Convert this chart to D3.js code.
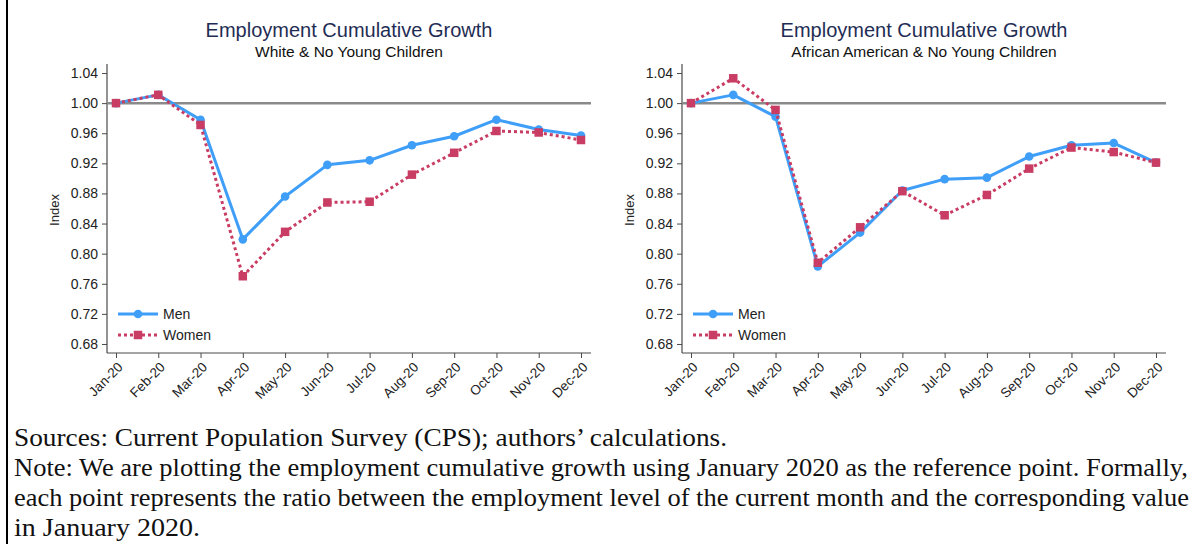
<!DOCTYPE html>
<html>
<head>
<meta charset="utf-8">
<script src="https://cdn.jsdelivr.net/npm/d3@7"></script>
<style>
  html, body { margin: 0; padding: 0; background: #fff; }
  svg { display: block; }
</style>
</head>
<body>
<svg id="fig" width="1204" height="544"></svg>
<script>
// Monthly employment index, Jan 2020 = 1
const months = ["Jan-20","Feb-20","Mar-20","Apr-20","May-20","Jun-20","Jul-20","Aug-20","Sep-20","Oct-20","Nov-20","Dec-20"];
const whiteMen   = [1.000, 1.011, 0.978, 0.819, 0.876, 0.918, 0.924, 0.944, 0.956, 0.978, 0.965, 0.957];
const whiteWomen = [1.000, 1.011, 0.971, 0.770, 0.829, 0.868, 0.869, 0.905, 0.934, 0.963, 0.961, 0.951];
const blackMen   = [1.000, 1.011, 0.982, 0.783, 0.828, 0.884, 0.899, 0.901, 0.929, 0.944, 0.947, 0.921];
const blackWomen = [1.000, 1.033, 0.991, 0.788, 0.835, 0.883, 0.851, 0.878, 0.913, 0.941, 0.935, 0.921];
const yTicks = [0.68, 0.72, 0.76, 0.80, 0.84, 0.88, 0.92, 0.96, 1.00, 1.04];
const seriesNames = ["Men", "Women"];
const panelTitle = "Employment Cumulative Growth";
const panelSubtitles = ["White & No Young Children", "African American & No Young Children"];
const footnotes = [
  "Sources: Current Population Survey (CPS); authors\u2019 calculations.",
  "Note: We are plotting the employment cumulative growth using January 2020 as the reference point. Formally,",
  "each point represents the ratio between the employment level of the current month and the corresponding value",
  "in January 2020."
];

const SANS = "'Liberation Sans', Arial, Helvetica, sans-serif";
const SERIF = "'Liberation Serif', 'Times New Roman', serif";
const MEN_COLOR = "#3f9ef7";
const WOMEN_COLOR = "#c93c63";
const AXIS_COLOR = "#4a4a4a";

const svg = d3.select("#fig");

// frame rule on the left edge
svg.append("line")
  .attr("x1", 7).attr("x2", 7).attr("y1", 0).attr("y2", 544)
  .attr("stroke", "#000").attr("stroke-width", 2);

function drawPanel(ox, subtitle, men, women) {
  const g = svg.append("g").attr("transform", `translate(${ox},0)`);
  const axisX = 107, axisRight = 591, top = 64, bottom = 353;

  const x = d3.scalePoint().domain(months).range([116, 581]);
  const y = d3.scaleLinear().domain([0.668, 1.052]).range([bottom, top]);

  // titles
  const cx = 349;
  g.append("text").attr("x", cx).attr("y", 37).attr("text-anchor", "middle")
    .attr("font-family", SANS).attr("font-size", 20).attr("fill", "#1f2d55")
    .text(panelTitle);
  g.append("text").attr("x", cx).attr("y", 57).attr("text-anchor", "middle")
    .attr("font-family", SANS).attr("font-size", 15.5).attr("fill", "#111")
    .text(subtitle);

  // y axis
  const yAxis = g.append("g").attr("transform", `translate(${axisX},0)`)
    .call(d3.axisLeft(y).tickValues(yTicks).tickFormat(d3.format(".2f")).tickSize(5).tickPadding(4));
  yAxis.select(".domain").remove();
  yAxis.selectAll(".tick line").attr("stroke", AXIS_COLOR);
  yAxis.selectAll(".tick text").attr("font-family", SANS).attr("font-size", 14).attr("fill", "#222");
  g.append("line").attr("x1", axisX).attr("x2", axisX).attr("y1", top).attr("y2", bottom)
    .attr("stroke", AXIS_COLOR).attr("stroke-width", 1.2);

  // x axis
  const xAxis = g.append("g").attr("transform", `translate(0,${bottom})`)
    .call(d3.axisBottom(x).tickSize(5).tickPadding(4));
  xAxis.select(".domain").remove();
  xAxis.selectAll(".tick line").attr("stroke", AXIS_COLOR);
  xAxis.selectAll(".tick text")
    .attr("font-family", SANS).attr("font-size", 13.5).attr("fill", "#222")
    .attr("text-anchor", "end")
    .attr("dy", null).attr("y", null)
    .attr("transform", "translate(7,15) rotate(-45)");
  g.append("line").attr("x1", axisX).attr("x2", axisRight).attr("y1", bottom).attr("y2", bottom)
    .attr("stroke", AXIS_COLOR).attr("stroke-width", 1.2);

  // y label
  g.append("text").attr("transform", `translate(59,210) rotate(-90)`)
    .attr("text-anchor", "middle").attr("font-family", SANS).attr("font-size", 13).attr("fill", "#222")
    .text("Index");

  // reference line at 1.00
  g.append("line").attr("x1", axisX).attr("x2", axisRight).attr("y1", y(1)).attr("y2", y(1))
    .attr("stroke", "#8a8a8a").attr("stroke-width", 2.5);

  const line = d3.line().x((d, i) => x(months[i])).y(d => y(d));

  // men: solid blue with circles
  g.append("path").datum(men).attr("d", line)
    .attr("fill", "none").attr("stroke", MEN_COLOR).attr("stroke-width", 3).attr("stroke-linejoin", "round");
  g.selectAll(".men-pt").data(men).join("circle")
    .attr("cx", (d, i) => x(months[i])).attr("cy", d => y(d)).attr("r", 4.3)
    .attr("fill", MEN_COLOR);

  // women: dotted crimson with squares
  g.append("path").datum(women).attr("d", line)
    .attr("fill", "none").attr("stroke", WOMEN_COLOR).attr("stroke-width", 3)
    .attr("stroke-dasharray", "3,3");
  const sq = 8.5;
  g.selectAll(".women-pt").data(women).join("rect")
    .attr("x", (d, i) => x(months[i]) - sq / 2).attr("y", d => y(d) - sq / 2)
    .attr("width", sq).attr("height", sq).attr("fill", WOMEN_COLOR);

  // legend
  const lg = g.append("g");
  const lx0 = 118, lx1 = 158, ly = [314, 335];
  lg.append("line").attr("x1", lx0).attr("x2", lx1).attr("y1", ly[0]).attr("y2", ly[0])
    .attr("stroke", MEN_COLOR).attr("stroke-width", 3);
  lg.append("circle").attr("cx", (lx0 + lx1) / 2).attr("cy", ly[0]).attr("r", 4.3).attr("fill", MEN_COLOR);
  lg.append("line").attr("x1", lx0).attr("x2", lx1).attr("y1", ly[1]).attr("y2", ly[1])
    .attr("stroke", WOMEN_COLOR).attr("stroke-width", 3).attr("stroke-dasharray", "3,3");
  lg.append("rect").attr("x", (lx0 + lx1) / 2 - sq / 2).attr("y", ly[1] - sq / 2)
    .attr("width", sq).attr("height", sq).attr("fill", WOMEN_COLOR);
  seriesNames.forEach((n, i) => {
    lg.append("text").attr("x", 163).attr("y", ly[i] + 5)
      .attr("font-family", SANS).attr("font-size", 14).attr("fill", "#222").text(n);
  });
}

drawPanel(0, panelSubtitles[0], whiteMen, whiteWomen);
drawPanel(575, panelSubtitles[1], blackMen, blackWomen);

// footnotes
const noteWidths = [713, 1174, 1175, 186];
const noteY = [446, 476, 506, 536];
footnotes.forEach((t, i) => {
  svg.append("text").attr("x", 14).attr("y", noteY[i])
    .attr("font-family", SERIF).attr("font-size", 26).attr("fill", "#111")
    .attr("textLength", noteWidths[i]).attr("lengthAdjust", "spacingAndGlyphs")
    .text(t);
});
</script>
</body>
</html>
